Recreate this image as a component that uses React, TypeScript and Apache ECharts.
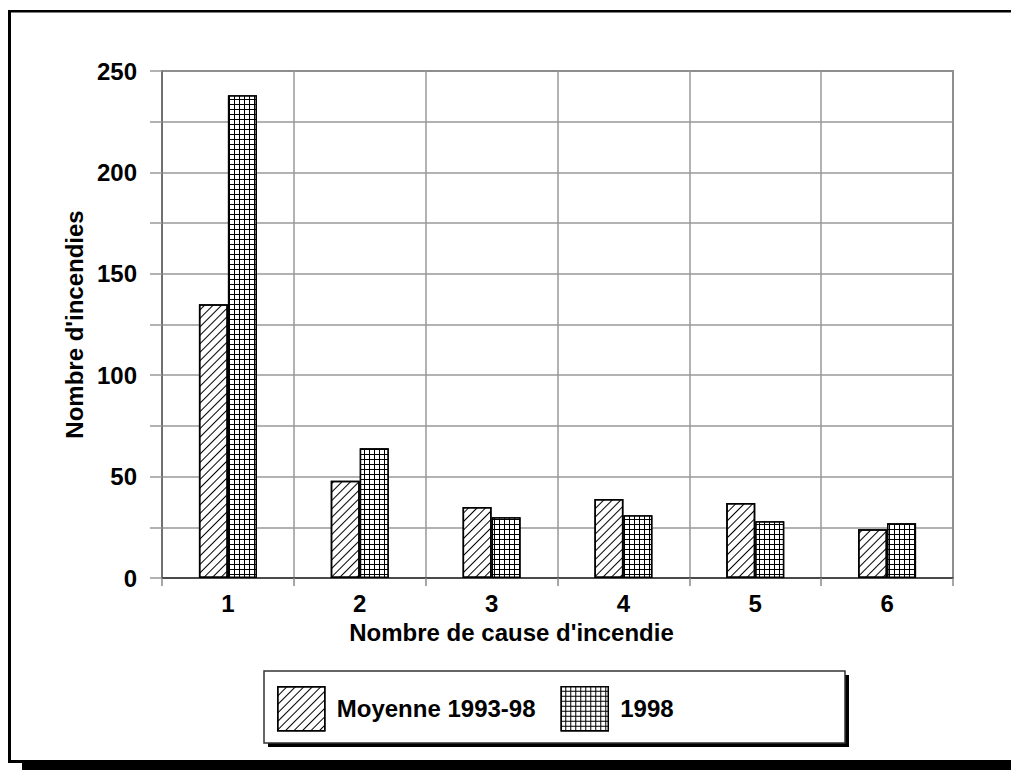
import React, { useEffect, useRef } from "react";
import * as echarts from "echarts";

const categories = ["1", "2", "3", "4", "5", "6"];
const moyenneValues = [135, 48, 35, 39, 37, 24];
const values1998 = [238, 64, 30, 31, 28, 27];
const seriesNames = ["Moyenne 1993-98", "1998"];
const yLabeledTicks = [0, 50, 100, 150, 200, 250];

const FONT = "'Liberation Sans', Arial, sans-serif";

export default function App() {
  const ref = useRef<HTMLDivElement>(null);
  useEffect(() => {
    if (!ref.current) return;
    const chart = echarts.init(ref.current, null, { renderer: "svg" });
    const hatchDecal = {
      symbol: "rect",
      symbolSize: 1,
      color: "#000",
      backgroundColor: "#fff",
      dashArrayX: [1, 0],
      dashArrayY: [1, 4.5],
      rotation: -Math.PI / 4,
    };
    const gridDecal = {
      symbol: "rect",
      symbolSize: 1,
      color: "#fff",
      backgroundColor: "#000",
      dashArrayX: [3.6, 1],
      dashArrayY: [3.6, 1],
      rotation: 0,
    };
    chart.setOption({
      animation: false,
      backgroundColor: "#fff",
      textStyle: { fontFamily: FONT },
      grid: {
        left: 162,
        top: 71,
        right: 58,
        bottom: 192,
        show: true,
        borderColor: "#444",
        borderWidth: 1.5,
        backgroundColor: "transparent",
      },
      legend: {
        show: true,
        left: 277,
        top: 686,
        padding: 0,
        itemWidth: 47,
        itemHeight: 44,
        itemGap: 25,
        icon: "rect",
        data: seriesNames,
        textStyle: {
          fontFamily: FONT,
          fontSize: 24,
          fontWeight: "bold",
          color: "#000",
          padding: [0, 0, 0, 7],
        },
        itemStyle: { borderColor: "#000", borderWidth: 1.5 },
        selectedMode: false,
        z: 10,
      },
      xAxis: {
        type: "category",
        data: categories,
        name: "Nombre de cause d'incendie",
        nameLocation: "middle",
        nameGap: 42,
        nameTextStyle: {
          fontFamily: FONT,
          fontSize: 24,
          fontWeight: "bold",
          color: "#000",
          padding: [0, 92, 0, 0],
        },
        axisLine: { show: true, lineStyle: { color: "#333", width: 1.5 } },
        axisTick: { show: true, length: 8, lineStyle: { color: "#888", width: 1.5 } },
        axisLabel: { fontFamily: FONT, fontSize: 24, fontWeight: "bold", color: "#000", margin: 13 },
        splitLine: { show: true, lineStyle: { color: "#999", width: 1.5 } },
      },
      yAxis: {
        type: "value",
        min: 0,
        max: 250,
        interval: 25,
        name: "Nombre d'incendies",
        nameLocation: "middle",
        nameRotate: 90,
        nameGap: 69,
        nameTextStyle: { fontFamily: FONT, fontSize: 24, fontWeight: "bold", color: "#000" },
        axisLine: { show: true, lineStyle: { color: "#666", width: 1.5 } },
        axisTick: { show: true, length: 12, lineStyle: { color: "#999", width: 1.5 } },
        axisLabel: {
          fontFamily: FONT,
          fontSize: 24,
          fontWeight: "bold",
          color: "#000",
          margin: 25,
          formatter: (v: number) => (yLabeledTicks.indexOf(v) >= 0 ? String(v) : ""),
        },
        splitLine: { show: true, lineStyle: { color: "#999", width: 1.5 } },
      },
      series: [
        {
          name: seriesNames[0],
          type: "bar",
          data: moyenneValues,
          barWidth: 29,
          barGap: "0%",
          itemStyle: { color: "#fff", borderColor: "#000", borderWidth: 1.5, decal: hatchDecal },
        },
        {
          name: seriesNames[1],
          type: "bar",
          data: values1998,
          barWidth: 29,
          barGap: "0%",
          itemStyle: { color: "#000", borderColor: "#000", borderWidth: 1.5, decal: gridDecal },
        },
      ],
      graphic: [
        { type: "rect", z: 0, silent: true, shape: { x: 8, y: 10, width: 1003, height: 2.5 }, style: { fill: "#000" } },
        { type: "rect", z: 0, silent: true, shape: { x: 8, y: 10, width: 3, height: 753 }, style: { fill: "#000" } },
        { type: "rect", z: 0, silent: true, shape: { x: 8, y: 760, width: 1003, height: 3 }, style: { fill: "#000" } },
        { type: "rect", z: 0, silent: true, shape: { x: 22, y: 762, width: 989, height: 8 }, style: { fill: "#000" } },
        { type: "rect", z: 1, silent: true, shape: { x: 268, y: 675, width: 581, height: 72 }, style: { fill: "#000" } },
        {
          type: "rect",
          z: 2,
          silent: true,
          shape: { x: 264, y: 671, width: 581, height: 72 },
          style: { fill: "#fff", stroke: "#333", lineWidth: 1.5 },
        },
      ],
    });
    return () => chart.dispose();
  }, []);
  return (
    <div
      ref={ref}
      style={{ position: "absolute", left: 0, top: 0, width: 1011, height: 770, background: "#fff" }}
    />
  );
}
